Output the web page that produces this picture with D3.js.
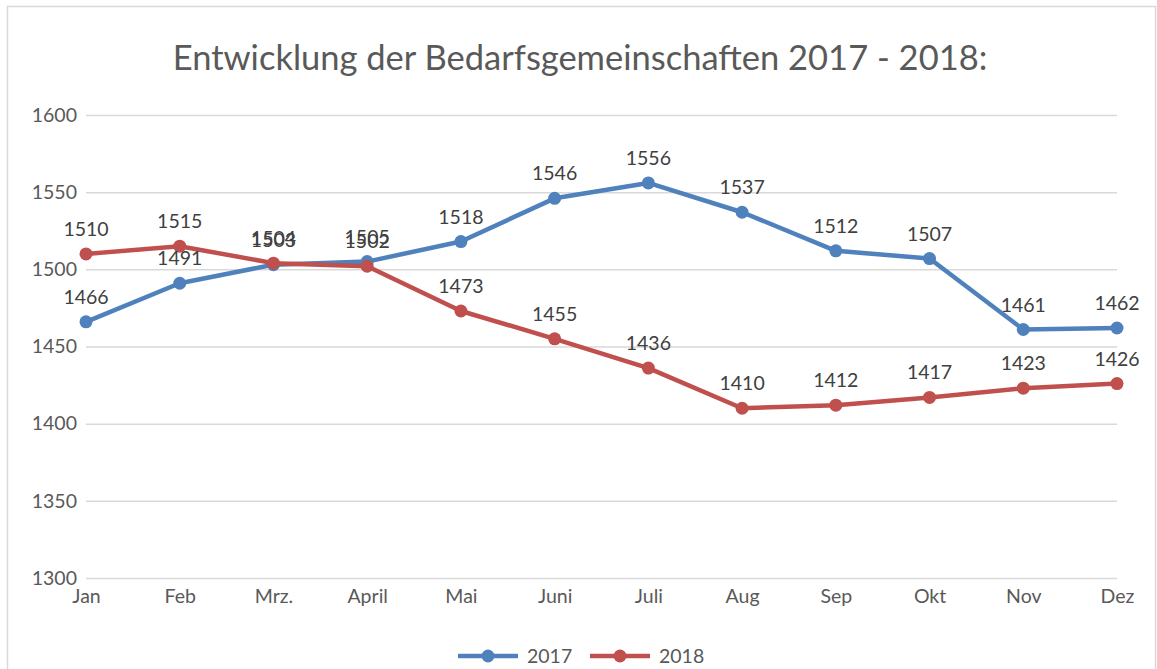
<!DOCTYPE html>
<html>
<head>
<meta charset="utf-8">
<script src="https://cdn.jsdelivr.net/npm/d3@7"></script>
<style>
  body { margin: 0; background: #fff; }
  svg { display: block; font-family: Lato, "Open Sans", sans-serif; }
</style>
</head>
<body>
<svg id="chart" width="1157" height="669"></svg>
<script>
var months = ['Jan', 'Feb', 'Mrz.', 'April', 'Mai', 'Juni', 'Juli', 'Aug', 'Sep', 'Okt', 'Nov', 'Dez'];
var values2017 = [1466, 1491, 1503, 1505, 1518, 1546, 1556, 1537, 1512, 1507, 1461, 1462];
var values2018 = [1510, 1515, 1504, 1502, 1473, 1455, 1436, 1410, 1412, 1417, 1423, 1426];
var yTicks = [1300, 1350, 1400, 1450, 1500, 1550, 1600];

var series = [
  { name: '2017', values: values2017, color: '#4f81bd' },
  { name: '2018', values: values2018, color: '#c0504d' }
];

var svg = d3.select('#chart');

// chart border
svg.append('rect')
  .attr('x', 7.5).attr('y', 6.5)
  .attr('width', 1148).attr('height', 680)
  .attr('fill', 'none')
  .attr('stroke', '#d9d9d9')
  .attr('stroke-width', 1.5);

var x = d3.scalePoint()
  .domain(months)
  .range([86, 1117]);

var y = d3.scaleLinear()
  .domain([1300, 1600])
  .range([578, 115]);

// title
svg.append('text')
  .attr('x', 580).attr('y', 70)
  .attr('text-anchor', 'middle')
  .attr('font-size', 34.5)
  .attr('fill', '#595959')
  .text('Entwicklung der Bedarfsgemeinschaften 2017 - 2018:');

// gridlines + y labels
var yAxis = d3.axisLeft(y)
  .tickValues(yTicks)
  .tickFormat(d3.format('d'))
  .tickSize(-(1117 - 86))
  .tickPadding(9);

var gy = svg.append('g')
  .attr('transform', 'translate(86,0)')
  .call(yAxis);
gy.select('.domain').remove();
gy.selectAll('.tick line').attr('stroke', '#d9d9d9').attr('stroke-width', 1.5);
gy.selectAll('.tick text')
  .attr('font-size', 19.5)
  .attr('font-family', 'Lato, sans-serif')
  .attr('fill', '#595959');

// x labels
var xAxis = d3.axisBottom(x).tickSize(0).tickPadding(11);
var gx = svg.append('g')
  .attr('transform', 'translate(0,578)')
  .call(xAxis);
gx.select('.domain').remove();
gx.selectAll('.tick text')
  .attr('font-size', 19.5)
  .attr('font-family', 'Lato, sans-serif')
  .attr('fill', '#595959');

var line = d3.line()
  .x(function (d, i) { return x(months[i]); })
  .y(function (d) { return y(d); });

series.forEach(function (s) {
  var g = svg.append('g');
  g.append('path')
    .datum(s.values)
    .attr('d', line)
    .attr('fill', 'none')
    .attr('stroke', s.color)
    .attr('stroke-width', 4.5)
    .attr('stroke-linejoin', 'round');
  g.selectAll('circle')
    .data(s.values)
    .enter()
    .append('circle')
    .attr('cx', function (d, i) { return x(months[i]); })
    .attr('cy', function (d) { return y(d); })
    .attr('r', 6.5)
    .attr('fill', s.color);
});

series.forEach(function (s) {
  svg.append('g').selectAll('text')
    .data(s.values)
    .enter()
    .append('text')
    .attr('x', function (d, i) { return x(months[i]); })
    .attr('y', function (d) { return y(d) - 18; })
    .attr('text-anchor', 'middle')
    .attr('font-size', 19.5)
    .attr('fill', '#404040')
    .text(function (d) { return d; });
});

// legend
var legend = svg.append('g');
var legendX = [458, 590];
series.forEach(function (s, i) {
  var lx = legendX[i];
  legend.append('line')
    .attr('x1', lx).attr('x2', lx + 60)
    .attr('y1', 656).attr('y2', 656)
    .attr('stroke', s.color)
    .attr('stroke-width', 4.5);
  legend.append('circle')
    .attr('cx', lx + 30).attr('cy', 656)
    .attr('r', 6.5)
    .attr('fill', s.color);
  legend.append('text')
    .attr('x', lx + 69).attr('y', 663)
    .attr('font-size', 19.5)
    .attr('fill', '#595959')
    .text(s.name);
});
</script>
</body>
</html>
